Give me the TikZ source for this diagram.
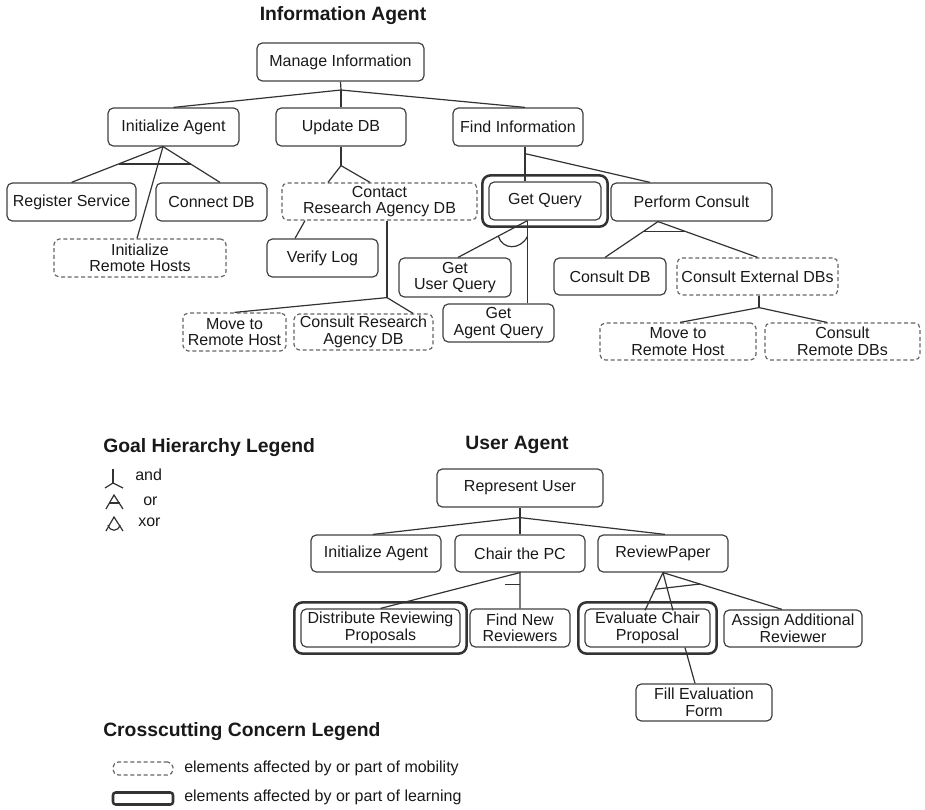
\documentclass[tikz,border=0pt]{standalone}
\usepackage{fontspec}
\setmainfont{Liberation Sans}
\usetikzlibrary{calc}
\newcommand\gnode[7]{\node[#1, minimum width={(#5-#3)*0.75pt}, minimum height={(#6-#4)*0.75pt}] (#2) at ({(#3+#5)/2},{(#4+#6)/2}) {#7};}
\begin{document}
\begin{tikzpicture}[x=0.75pt,y=-0.75pt,
  goal/.style={draw=black!75, line width=0.9pt, rounded corners=4pt, inner sep=0pt, align=center, font=\fontsize{12pt}{12.4pt}\selectfont, text=black!90},
  mob/.style={goal, dash pattern=on 3pt off 2pt, draw=black!60},
  learnframe/.style={draw=black!80, line width=1.9pt, rounded corners=6pt},
  link/.style={draw=black!80, line width=0.9pt},
  title/.style={font=\fontsize{14.5pt}{16pt}\selectfont\bfseries, text=black!90, inner sep=0pt},
  legtext/.style={font=\fontsize{12pt}{14pt}\selectfont, text=black!90, inner sep=0pt, anchor=west},
]
\useasboundingbox (0,0) rectangle (925,810);

% ---------------- Information Agent ----------------
\node[title] (tinfo) at (343,16) {Information Agent};
\gnode{goal}{mi}{257}{43}{424}{81}{Manage Information}
\gnode{goal}{ia}{108}{108}{239}{146}{Initialize Agent}
\gnode{goal}{ud}{276}{108}{406}{146}{Update DB}
\gnode{goal}{fi}{453}{108}{583}{146}{Find Information}
\gnode{goal}{rs}{7}{183}{136}{221}{Register Service}
\gnode{goal}{cdb}{156}{183}{267}{221}{Connect DB}
\gnode{mob}{irh}{54}{239}{226}{277}{Initialize\\Remote Hosts}
\gnode{mob}{crad}{282}{183}{477}{220}{Contact\\Research Agency DB}
\gnode{goal}{vl}{267}{239}{378}{277}{Verify Log}
\gnode{mob}{mrh1}{183}{313}{286}{351}{Move to\\Remote Host}
\gnode{mob}{crdb}{294}{314}{433}{350}{Consult Research\\Agency DB}
\gnode{goal}{gq}{489}{182}{601}{220}{Get Query}
\draw[learnframe] ($(gq.north west)+(-6,-6)$) rectangle ($(gq.south east)+(6,6)$);
\gnode{goal}{pc}{611}{183}{772}{221}{Perform Consult}
\gnode{goal}{guq}{399}{258}{511}{297}{Get\\User Query}
\gnode{goal}{gaq}{443}{304}{554}{342}{Get\\Agent Query}
\gnode{goal}{cdb2}{554}{258}{666}{295}{Consult DB}
\gnode{mob}{ced}{677}{258}{838}{295}{Consult External DBs}
\gnode{mob}{mrh2}{600}{323}{756}{360}{Move to\\Remote Host}
\gnode{mob}{crd}{765}{323}{920}{360}{Consult\\Remote DBs}

% connectors
\coordinate (j1) at (341,90);
\draw[link] (mi.south) -- (j1);
\draw[link] (j1) -- (ia.north);
\draw[link] (j1) -- (ud.north);
\draw[link] (j1) -- ($(fi.north)+(7,0)$);

\coordinate (a1) at ($(ia.south)+(-10.5,0)$);
\coordinate (cdbT) at ($(cdb.north)+(8.5,0)$);
\draw[link] (rs.north) -- (a1) -- (cdbT);
\draw[link] (a1) -- ($(irh.north)+(-3,0)$);
\draw[link] ($(a1)!0.486!(rs.north)$) -- ($(a1)!0.486!(cdbT)$);

\coordinate (j2) at ($(ud.south)+(0,19)$);
\draw[link] (ud.south) -- (j2);
\draw[link] ($(crad.north)+(-51.5,0)$) -- (j2) -- ($(crad.north)+(-9.5,0)$);

\draw[link] ($(crad.south)+(-74.5,0)$) -- ($(vl.north)+(-27.5,0)$);
\coordinate (j3) at ($(crad.south)+(7.5,77)$);
\draw[link] ($(crad.south)+(7.5,0)$) -- (j3);
\draw[link] (mrh1.north) -- (j3) -- ($(crdb.north)+(49.5,0)$);

\coordinate (fib) at ($(fi.south)+(7,0)$);
\draw[link] (fib) -- (fib |- gq.north);
\draw[link] ($(fib)+(0,7)$) -- ($(pc.north)+(-41.5,0)$);

\coordinate (gqb) at ($(gq.south)+(-17.5,0)$);
\coordinate (guqT) at ($(guq.north)+(3,0)$);
\coordinate (gaqT) at (gqb |- gaq.north);
\draw[link] (gqb) -- (guqT);
\draw[link] (gqb) -- (gaqT);
\coordinate (xa) at ($(gqb)!0.42!(guqT)$);
\coordinate (xb) at ($(gqb)!0.19!(gaqT)$);
\draw[link] (xa) .. controls ($(xa)+(4,14)$) and ($(xb)+(-7,14)$) .. (xb);

\coordinate (pcb) at ($(pc.south)+(-33.5,0)$);
\coordinate (cdb2T) at ($(cdb2.north)+(-5,0)$);
\draw[link] (cdb2T) -- (pcb) -- (ced.north);
\draw[link] ($(pcb)!0.27!(cdb2T)$) -- ($(pcb)!0.27!(ced.north)$);

\coordinate (j4) at ($(ced.south)+(1.5,12)$);
\draw[link] ($(ced.south)+(1.5,0)$) -- (j4);
\draw[link] ($(mrh2.north)+(2,0)$) -- (j4) -- ($(crd.north)+(-15.5,0)$);

% ---------------- User Agent ----------------
\node[title] (tuser) at (517,445) {User Agent};
\gnode{goal}{ru}{437}{469}{603}{507}{Represent User}
\gnode{goal}{ia2}{311}{535}{441}{572}{Initialize Agent}
\gnode{goal}{cpc}{455}{535}{585}{572}{Chair the PC}
\gnode{goal}{rp}{598}{535}{728}{572}{ReviewPaper}
\gnode{goal}{drp}{301}{609}{460}{647}{Distribute Reviewing\\Proposals}
\draw[learnframe] ($(drp.north west)+(-6,-6)$) rectangle ($(drp.south east)+(6,6)$);
\gnode{goal}{fnr}{470}{609}{570}{647}{Find New\\Reviewers}
\gnode{goal}{ecp}{585}{609}{710}{647}{Evaluate Chair\\Proposal}
\draw[learnframe] ($(ecp.north west)+(-6,-6)$) rectangle ($(ecp.south east)+(6,6)$);
\gnode{goal}{aar}{724}{610}{862}{647}{Assign Additional\\Reviewer}
\gnode{goal}{fef}{636}{684}{772}{721}{Fill Evaluation\\Form}

\coordinate (j5) at ($(ru.south)+(0,10)$);
\draw[link] (ru.south) -- (j5) -- (cpc.north);
\draw[link] ($(ia2.north)+(-3,0)$) -- (j5) -- ($(rp.north)+(2,0)$);

\draw[link] (drp.north) -- (cpc.south) -- (fnr.north);
\draw[link] ($(cpc.south)+(-15,12)$) -- ($(cpc.south)+(0,12)$);

\coordinate (rpb) at (rp.south);
\coordinate (e1) at ($(ecp.north)+(-2.5,2)$);
\coordinate (e2) at ($(ecp.north)+(25.5,2)$);
\coordinate (aarT) at ($(aar.north)+(-11,0)$);
\draw[link] (e1) -- (rpb) -- (aarT);
\draw[link] (rpb) -- (e2);
\draw[link] ($(rpb)!0.44!(e1)$) -- ($(rpb)!0.31!(aarT)$);
\draw[link] ($(ecp.south)+(37.5,0)$) -- ($(fef.north)+(-9,0)$);

% ---------------- Goal Hierarchy Legend ----------------
\node[title, anchor=west] (tgoal) at (103,448) {Goal Hierarchy Legend};
\draw[link] (113,469) -- (113,483);
\draw[link] (105,488) -- (113,483) -- (123,488);
\node[legtext] (tand) at (135,475) {and};
\draw[link] (106,509) -- (114,495) -- (123,509);
\draw[link] (109,503) -- (120,503);
\node[legtext] (tor) at (143,501) {or};
\draw[link] (106,531) -- (114,517) -- (123,531);
\draw[link] (108,525) .. controls (110,532) and (118,532) .. (120,525);
\node[legtext] (txor) at (138,522) {xor};

% ---------------- Crosscutting Concern Legend ----------------
\node[title, anchor=west] (tcross) at (103,732) {Crosscutting Concern Legend};
\gnode{mob}{legmob}{113}{762}{173}{775}{}
\node[draw=black!80, line width=1.9pt, rounded corners=2pt, inner sep=0pt, minimum width=45pt, minimum height=9pt] (leglearn) at (143,798.5) {};
\node[legtext] (tmob) at (184,768) {elements affected by or part of mobility};
\node[legtext] (tlearn) at (184,797) {elements affected by or part of learning};
\end{tikzpicture}
\end{document}
